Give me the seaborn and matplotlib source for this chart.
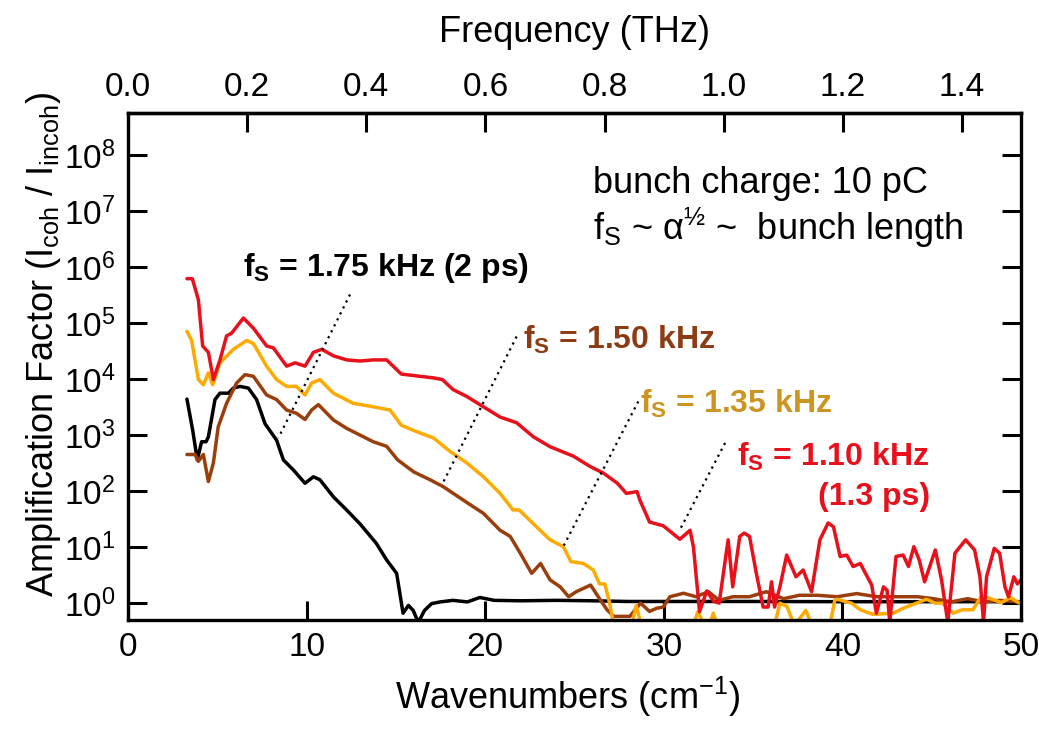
import numpy as np
import matplotlib
matplotlib.use("Agg")
import matplotlib.pyplot as plt
import seaborn as sns
from matplotlib.ticker import FixedLocator, NullLocator, LogFormatterMathtext, FormatStrFormatter

# ---- spectra: wavenumber (cm^-1) and amplification factor I_coh / I_incoh ----
wn_110 = [3.3, 3.6, 3.94, 4.18, 4.5, 4.78, 5.15, 5.52, 5.8, 6.46, 7.02, 7.76, 8.14, 8.88, 9.35,
          9.91, 10.38, 10.85, 11.5, 12.24, 12.99, 13.73, 14.48, 15.3, 16.35, 17.1, 17.6, 18.2,
          18.96, 19.9, 20.83, 21.76, 22.7, 23.63, 24.94, 25.87, 26.61, 27.4, 27.9, 28.5, 28.66,
          29.2, 29.97, 30.9, 31.47, 31.66, 32.0, 32.4, 32.8, 33.1, 33.6, 33.86, 34.25, 34.5,
          34.8, 35.18, 35.56, 35.84, 36.03, 36.2, 36.5, 36.88, 37.4, 37.8, 38.27, 38.74, 39.2,
          39.5, 39.87, 40.24, 40.6, 41.0, 41.64, 41.9, 42.3, 42.5, 42.65, 43.0, 43.4, 43.7,
          44.0, 44.3, 44.6, 45.2, 45.55, 45.9, 46.3, 46.9, 47.4, 47.7, 47.9, 48.07, 48.5, 48.8,
          49.1, 49.3, 49.6, 49.8, 50.0]
amp_110 = [6.2e5, 6.2e5, 2.6e5, 3.9e4, 3.0e4, 9.8e3, 2.2e4, 5.9e4, 6.6e4, 1.23e5, 8.1e4, 3.9e4,
           3.6e4, 1.7e4, 1.95e4, 1.7e4, 3.0e4, 3.4e4, 2.6e4, 2.2e4, 2.1e4, 2.2e4, 2.2e4, 1.23e4,
           1.12e4, 1.05e4, 9.8e3, 6.5e3, 4.9e3, 3.2e3, 2.1e3, 1.66e3, 9.3e2, 6.2e2, 4.2e2,
           2.75e2, 2.1e2, 1.38e2, 91, 98, 69, 28, 24, 13.8, 20, 10, 0.7, 1.65, 1.07, 1.0, 13.5,
           1.95, 15.5, 17.8, 15.5, 3.4, 0.85, 0.85, 2.4, 0.85, 1.95, 7.2, 2.95, 3.9, 1.6, 13.5,
           27, 23, 6.8, 7.2, 4.5, 5.1, 2.1, 0.66, 1.95, 1.7, 0.45, 6.8, 7.2, 4.5, 10.2, 5.9,
           2.4, 8.9, 2.6, 0.45, 7.8, 13.5, 8.9, 2.95, 0.45, 2.95, 9.5, 7.8, 1.95, 1.3, 2.95,
           2.2, 2.6]

wn_135 = [3.3, 3.56, 3.94, 4.22, 4.5, 4.74, 5.15, 5.9, 6.65, 7.02, 7.76, 8.32, 8.88, 9.43, 9.91,
          10.28, 10.74, 11.5, 12.6, 13.73, 14.67, 15.3, 16.16, 17.1, 18.0, 18.96, 19.9, 20.83,
          21.56, 21.9, 22.7, 23.63, 24.37, 24.8, 25.5, 26.05, 26.4, 26.7, 26.97, 27.2, 28.2,
          28.45, 28.7, 31.66, 31.9, 32.2, 32.6, 32.77, 33.0, 36.2, 36.5, 36.9, 37.3, 37.95,
          38.3, 39.3, 39.57, 39.7, 40.5, 41.0, 41.7, 42.85, 43.4, 44.15, 44.7, 45.2, 45.6,
          46.2, 46.7, 47.3, 47.8, 48.4, 48.9, 49.4, 49.9]
amp_135 = [7.1e4, 4.9e4, 9.8e3, 7.9e3, 1.29e4, 7.9e3, 1.95e4, 3.4e4, 4.9e4, 4.3e4, 1.7e4, 9.8e3,
           7.4e3, 7.4e3, 5.2e3, 8.5e3, 9.8e3, 5.6e3, 3.7e3, 3.2e3, 2.8e3, 1.5e3, 1.15e3, 8.9e2,
           5.2e2, 3.2e2, 1.8e2, 91, 46, 46, 26, 13.5, 10.2, 5.5, 5.1, 3.9, 2.2, 2.2, 0.98, 0.4,
           0.4, 0.9, 0.45, 0.4, 0.7, 0.45, 0.45, 0.66, 0.4, 0.4, 1.0, 0.87, 0.4, 0.74, 0.4,
           0.4, 1.12, 1.17, 1.0, 0.76, 0.63, 0.66, 0.81, 1.0, 1.17, 1.0, 1.0, 0.66, 0.76, 0.76,
           1.35, 1.17, 1.02, 1.26, 1.0]

wn_150 = [3.3, 3.75, 3.94, 4.22, 4.5, 4.78, 5.05, 5.52, 6.08, 6.55, 7.02, 7.76, 8.32, 8.88, 9.43,
          9.91, 10.28, 10.66, 11.5, 12.24, 12.99, 13.73, 14.48, 15.1, 16.0, 16.9, 17.65, 18.21,
          18.96, 19.9, 20.83, 21.4, 21.96, 22.6, 23.1, 23.63, 24.2, 24.67, 25.1, 25.9, 26.4,
          26.82, 27.2, 28.1, 28.7, 29.2, 29.6, 29.97, 30.34, 31.1, 31.8, 32.5, 33.1, 33.86,
          34.8, 35.74, 36.7, 37.6, 38.6, 39.7, 40.8, 41.9, 43.0, 44.2, 45.1, 46.1, 47.0, 47.9,
          48.8, 50.0]
amp_150 = [4.5e2, 4.5e2, 3.4e2, 4.5e2, 1.48e2, 3.2e2, 1.4e3, 3.7e3, 8.5e3, 1.2e4, 1.12e4, 5.2e3,
           4.3e3, 2.8e3, 2.45e3, 1.9e3, 2.8e3, 3.5e3, 1.86e3, 1.32e3, 1.0e3, 7.6e2, 6.3e2,
           3.6e2, 2.2e2, 1.6e2, 1.2e2, 91, 63, 40, 20, 15.5, 7.8, 3.4, 5.1, 2.6, 1.95, 1.3, 1.6,
           2.1, 1.2, 0.76, 0.58, 0.58, 1.0, 0.71, 0.81, 0.85, 1.3, 1.5, 1.3, 1.6, 1.12, 1.3,
           1.3, 1.6, 1.2, 1.38, 1.38, 1.3, 1.48, 1.3, 1.3, 1.3, 1.2, 1.05, 1.2, 1.05, 1.12,
           1.05]

wn_175 = [3.3, 3.62, 3.88, 4.12, 4.37, 4.5, 4.87, 5.15, 5.62, 5.9, 6.27, 6.74, 7.2, 7.67, 8.32,
          8.7, 9.25, 9.91, 10.38, 10.74, 11.5, 12.24, 12.99, 13.9, 14.48, 15.04, 15.4, 15.7,
          15.97, 16.25, 16.6, 17.0, 17.47, 18.2, 19.0, 19.7, 20.5, 22.0, 24.0, 26.0, 28.0,
          30.0, 32.0, 35.0, 40.0, 45.0, 50.0]
amp_175 = [4.4e3, 1.23e3, 3.6e2, 7.6e2, 7.6e2, 9.3e2, 4.3e3, 5.6e3, 5.6e3, 6.9e3, 7.4e3, 6.9e3,
           4.3e3, 1.6e3, 8.1e2, 3.6e2, 2.4e2, 1.38e2, 1.8e2, 1.6e2, 79, 46, 26, 11.7, 5.9, 3.4,
           0.66, 0.91, 0.74, 0.45, 0.74, 0.98, 1.05, 1.12, 1.05, 1.26, 1.12, 1.1, 1.12, 1.1,
           1.07, 1.07, 1.07, 1.07, 1.06, 1.06, 1.06]

freq_ticks = [0.0, 0.2, 0.4, 0.6, 0.8, 1.0, 1.2, 1.4]
wn_ticks = [0, 10, 20, 30, 40, 50]
amp_ticks = [1e0, 1e1, 1e2, 1e3, 1e4, 1e5, 1e6, 1e7, 1e8]

THZ_PER_WN = 0.0299792458  # 1 cm^-1 in THz

sns.set_style("white")
plt.rcParams["font.family"] = ["Liberation Sans", "DejaVu Sans"]
plt.rcParams["mathtext.fontset"] = "custom"
plt.rcParams["mathtext.rm"] = "Liberation Sans"
plt.rcParams["mathtext.it"] = "Liberation Sans:italic"
plt.rcParams["mathtext.bf"] = "Liberation Sans:bold"
for key in ("text.color", "axes.labelcolor", "xtick.color", "ytick.color", "axes.edgecolor"):
    plt.rcParams[key] = "black"

C_RED = "#e8101a"
C_ORANGE = "#ffaa00"
C_BROWN = "#9a3f0c"
C_BLACK = "#000000"

fig = plt.figure(figsize=(10.39, 7.33), dpi=100)
ax = fig.add_axes([0.1232, 0.1542, 0.8595, 0.6916])

series = [
    (wn_175, amp_175, C_BLACK),
    (wn_150, amp_150, C_BROWN),
    (wn_135, amp_135, C_ORANGE),
    (wn_110, amp_110, C_RED),
]
for wn, amp, col in series:
    sns.lineplot(x=wn, y=amp, ax=ax, color=col, lw=2.5, sort=False, estimator=None)

ax.set_yscale("log")
ax.set_xlim(0, 50)
ax.set_ylim(0.5, 10 ** 8.75)

# frame and ticks
for sp in ax.spines.values():
    sp.set_linewidth(2.4)
    sp.set_color("black")
ax.xaxis.set_major_locator(FixedLocator(wn_ticks))
ax.yaxis.set_major_locator(FixedLocator(amp_ticks))
ax.yaxis.set_minor_locator(NullLocator())
ax.yaxis.set_major_formatter(LogFormatterMathtext())
ax.tick_params(axis="both", which="major", direction="in", length=14, width=2.2,
               labelsize=24, colors="black", pad=9)
ax.tick_params(axis="y", right=True, left=True, labelright=False)
ax.tick_params(axis="x", top=False, bottom=True)

ax.set_xlabel("Wavenumbers (cm$^{\\mathregular{-1}}$)", fontsize=26, labelpad=10)
ax.xaxis.set_label_coords(0.492, -0.108)
ax.set_ylabel("Amplification Factor (I$_{\\mathregular{coh}}$ / I$_{\\mathregular{incoh}}$)",
              fontsize=26)
ax.yaxis.set_label_coords(-0.073, 0.544)

# frequency axis on top
top = ax.secondary_xaxis("top", functions=(lambda w: w * THZ_PER_WN, lambda f: f / THZ_PER_WN))
top.xaxis.set_major_locator(FixedLocator(freq_ticks))
top.xaxis.set_major_formatter(FormatStrFormatter("%.1f"))
top.tick_params(direction="in", length=14, width=2.2, labelsize=24, pad=7, colors="black")
top.spines["top"].set_linewidth(2.4)
top.set_xlabel("Frequency (THz)", fontsize=26, labelpad=22)

# leader lines from labels to curves
leaders = [((12.43, 10 ** 5.51), (8.42, 10 ** 2.95)),
           ((21.76, 10 ** 4.76), (17.62, 10 ** 2.14)),
           ((28.57, 10 ** 3.60), (24.37, 10 ** 1.01)),
           ((33.43, 10 ** 2.86), (30.9, 10 ** 1.31))]
for (x0, y0), (x1, y1) in leaders:
    ax.plot([x0, x1], [y0, y1], color="black", lw=1.6, ls=(0, (1, 2)))

lab_kw = dict(fontsize=23, fontweight="bold", va="center", ha="left")
ax.text(6.44, 10 ** 5.99, "f$_{\\mathbf{S}}$ = 1.75 kHz (2 ps)", color="black", **lab_kw)
ax.text(22.1, 10 ** 4.70, "f$_{\\mathbf{S}}$ = 1.50 kHz", color="#8c3c14", **lab_kw)
ax.text(28.67, 10 ** 3.56, "f$_{\\mathbf{S}}$ = 1.35 kHz", color="#cc9420", **lab_kw)
ax.text(34.1, 10 ** 2.61, "f$_{\\mathbf{S}}$ = 1.10 kHz", color=C_RED, **lab_kw)
ax.text(38.63, 10 ** 1.90, "(1.3 ps)", color=C_RED, **lab_kw)

ax.text(26.04, 10 ** 7.33, "bunch charge: 10 pC", fontsize=26, va="baseline", ha="left")
ax.text(26.04, 10 ** 6.49,
        "f$_{\\mathregular{S}}$ ~ \u03b1$^{\\mathregular{\u00bd}}$ ~  bunch length",
        fontsize=26, va="baseline", ha="left")

fig.savefig("out.png", dpi=100)
